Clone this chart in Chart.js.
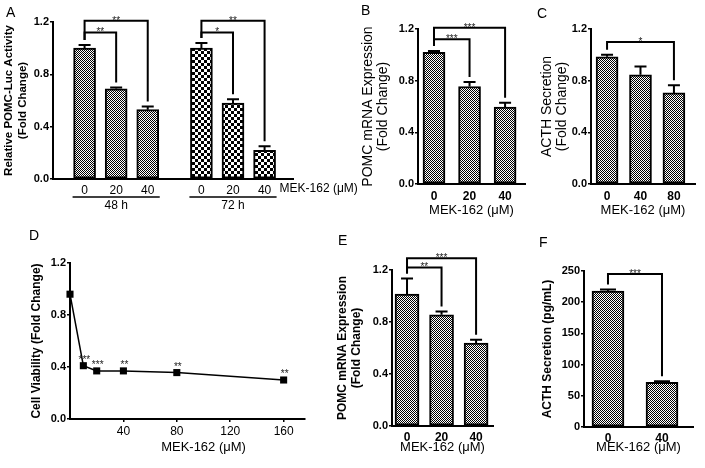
<!DOCTYPE html>
<html lang="en">
<head>
<meta charset="UTF-8">
<title>MEK-162 and POMC</title>
<script src="https://cdn.jsdelivr.net/npm/chart.js"></script>
<style>
    body, html {
        margin: 0;
        padding: 0;
        background: #fff;
        font-family: Arial, "Liberation Sans", sans-serif;
    }
    .wrap {
        position: relative;
        width: 705px;
        height: 468px;
        overflow: hidden;
    }
    canvas {
        position: absolute;
        left: 0;
        top: 0;
    }
    .tag {
        position: absolute;
        font-size: 14px;
        line-height: 16px;
        color: #000;
    }
</style>
</head>
<body>
<div class="wrap">
    <canvas id="chartA" width="705" height="468"></canvas>
    <canvas id="chartB" width="705" height="468"></canvas>
    <canvas id="chartC" width="705" height="468"></canvas>
    <canvas id="chartD" width="705" height="468"></canvas>
    <canvas id="chartE" width="705" height="468"></canvas>
    <canvas id="chartF" width="705" height="468"></canvas>
    <div class="tag" style="left:6px;top:4px">A</div>
    <div class="tag" style="left:361px;top:2px">B</div>
    <div class="tag" style="left:537px;top:5px">C</div>
    <div class="tag" style="left:29px;top:227px">D</div>
    <div class="tag" style="left:338px;top:232px">E</div>
    <div class="tag" style="left:539px;top:234px">F</div>
</div>

<script>
// ---- data ----
// A: POMC-Luc activity, 48 h and 72 h
const aDose = ['0', '20', '40', '0', '20', '40'];
const aPos = [1, 2, 3, 4.7, 5.7, 6.7];
const aGroupOf = [0, 0, 0, 1, 1, 1];
const aGroups = ['48 h', '72 h'];
const aMean = [1.00, 0.69, 0.53, 1.00, 0.58, 0.22];
const aErr = [0.025, 0.01, 0.025, 0.04, 0.03, 0.03];
const aSig = [[0, 1, 1.12, '**'], [0, 2, 1.21, '**'], [3, 4, 1.12, '*'], [3, 5, 1.21, '**']];

// B: POMC mRNA
const bDose = ['0', '20', '40'];
const bMean = [1.02, 0.755, 0.595];
const bErr = [0.01, 0.035, 0.035];
const bSig = [[0, 1, 1.12, '***'], [0, 2, 1.21, '***']];

// C: ACTH secretion (fold)
const cDose = ['0', '40', '80'];
const cMean = [0.985, 0.845, 0.705];
const cErr = [0.015, 0.065, 0.06];
const cSig = [[0, 2, 1.1, '*']];

// D: cell viability
const dDose = [0, 10, 20, 40, 80, 160];
const dViab = [0.96, 0.41, 0.37, 0.37, 0.357, 0.30];
const dStars = ['', '***', '***', '**', '**', '**'];
const dTicks = [40, 80, 120, 160];

// E: POMC mRNA
const eDose = ['0', '20', '40'];
const eMean = [1.015, 0.855, 0.638];
const eErr = [0.12, 0.025, 0.025];
const eSig = [[0, 1, 1.22, '**'], [0, 2, 1.29, '***']];

// F: ACTH secretion (pg/mL)
const fDose = ['0', '40'];
const fMean = [218, 71.5];
const fErr = [2.5, 2];
const fSig = [[0, 1, 245, '***']];

const W = 705, H = 468;
const FONT = 'Arial, "Liberation Sans", sans-serif';
Chart.defaults.font.family = FONT;
Chart.defaults.color = '#000';
Chart.defaults.plugins.legend.display = false;
Chart.defaults.plugins.tooltip.enabled = false;

function checker(cell) {
    const c = document.createElement('canvas');
    c.width = c.height = 2 * cell;
    const g = c.getContext('2d');
    g.fillStyle = '#fff';
    g.fillRect(0, 0, 2 * cell, 2 * cell);
    g.fillStyle = '#000';
    g.fillRect(0, 0, cell, cell);
    g.fillRect(cell, cell, cell, cell);
    return g.createPattern(c, 'repeat');
}
const fine = checker(1);
const coarse = checker(3);

// error bars + significance brackets
const sigPlugin = {
    id: 'sig',
    afterDatasetsDraw(chart, args, opts) {
        const {ctx} = chart;
        const x = chart.scales.x, y = chart.scales.y;
        const data = chart.data.datasets[0].data;
        const err = opts.err || [];
        ctx.save();
        ctx.strokeStyle = '#000';
        ctx.lineWidth = 2;
        err.forEach((e, i) => {
            const px = x.getPixelForValue(data[i].x);
            const top = y.getPixelForValue(data[i].y + e);
            ctx.beginPath();
            ctx.moveTo(px, y.getPixelForValue(data[i].y));
            ctx.lineTo(px, top);
            ctx.moveTo(px - opts.cap / 2, top);
            ctx.lineTo(px + opts.cap / 2, top);
            ctx.stroke();
        });
        ctx.font = '10px ' + FONT;
        ctx.fillStyle = '#222';
        ctx.textAlign = 'center';
        ctx.textBaseline = 'alphabetic';
        (opts.pairs || []).forEach(([a, b, level, label]) => {
            const xa = x.getPixelForValue(data[a].x);
            const xb = x.getPixelForValue(data[b].x);
            const yl = y.getPixelForValue(level);
            const ya = y.getPixelForValue(data[a].y + err[a]) - 5;
            const yb = y.getPixelForValue(data[b].y + err[b]) - 5;
            ctx.beginPath();
            ctx.moveTo(xa, ya);
            ctx.lineTo(xa, yl);
            ctx.lineTo(xb, yl);
            ctx.lineTo(xb, yb);
            ctx.stroke();
            ctx.fillText(label, (xa + xb) / 2, yl + 3);
        });
        ctx.restore();
    }
};

function barPanel(id, o) {
    return new Chart(document.getElementById(id), {
        type: 'bar',
        data: {
            datasets: [{
                data: o.pos.map((p, i) => ({x: p, y: o.mean[i]})),
                backgroundColor: o.fill,
                borderColor: '#000',
                borderWidth: 2,
                borderSkipped: false,
                barThickness: o.bar
            }]
        },
        options: {
            responsive: false,
            animation: false,
            layout: {padding: {left: o.box[0] - o.yw, top: o.box[1], right: W - o.box[2], bottom: H - o.box[3] - o.xh}},
            scales: {
                x: {
                    type: 'linear', min: o.xMin, max: o.xMax, offset: false,
                    afterBuildTicks: s => { s.ticks = o.pos.map(v => ({value: v})); },
                    afterFit: s => { s.height = o.xh; },
                    grid: {display: false, drawTicks: false, offset: false},
                    border: {display: true, color: '#000', width: 2},
                    ticks: {callback: (v, i) => o.labels[i], font: o.xFont, padding: o.xPad, autoSkip: false, maxRotation: 0},
                    title: o.xTitle ? {display: true, text: o.xTitle, font: {size: 13, lineHeight: 1.2}, padding: 0} : {display: false}
                },
                y: {
                    min: 0, max: o.yMax,
                    afterFit: s => { s.width = o.yw; },
                    ticks: {stepSize: o.yStep, font: {size: 11, weight: 'bold'}, padding: 1, callback: o.yFmt},
                    grid: {drawOnChartArea: false, color: '#000', lineWidth: 1.5, tickLength: 3},
                    border: {color: '#000', width: 2},
                    title: {display: true, text: o.yTitle, font: o.yFont, padding: 0}
                }
            },
            plugins: {sig: {err: o.err, pairs: o.pairs, cap: o.cap}}
        },
        plugins: [sigPlugin].concat(o.extra || [])
    });
}

const fold = v => v.toFixed(1);
const boldTitle = {size: 12, weight: 'bold', lineHeight: 1.15};
const plainTitle = {size: 14, lineHeight: 1.12};

// A extras: group underlines and dose caption
const aExtra = {
    id: 'aExtra',
    afterDraw(chart) {
        const {ctx} = chart;
        const x = chart.scales.x, y = chart.scales.y;
        const base = y.getPixelForValue(0);
        ctx.save();
        ctx.fillStyle = '#000';
        ctx.strokeStyle = '#000';
        ctx.lineWidth = 1.5;
        ctx.font = '12px ' + FONT;
        ctx.textBaseline = 'middle';
        ctx.textAlign = 'center';
        aGroups.forEach((name, g) => {
            const idx = aGroupOf.map((v, i) => v === g ? i : -1).filter(i => i >= 0);
            const x1 = x.getPixelForValue(aPos[idx[0]]) - 12;
            const x2 = x.getPixelForValue(aPos[idx[idx.length - 1]]) + 12;
            ctx.beginPath();
            ctx.moveTo(x1, base + 18);
            ctx.lineTo(x2, base + 18);
            ctx.stroke();
            ctx.fillText(name, (x1 + x2) / 2, base + 27);
        });
        ctx.textAlign = 'left';
        ctx.fillText('MEK-162 (μM)', x.getPixelForValue(aPos[aPos.length - 1]) + 15, base + 10);
        ctx.restore();
    }
};

barPanel('chartA', {
    box: [53, 22, 293, 179], yw: 51, xh: 30,
    pos: aPos, labels: aDose, mean: aMean, err: aErr, pairs: aSig,
    xMin: 0, xMax: 7.6, bar: 22, cap: 12,
    fill: aGroupOf.map(g => g === 0 ? fine : coarse),
    xFont: {size: 12}, xPad: 4,
    yMax: 1.2, yStep: 0.4, yFmt: fold,
    yTitle: ['Relative POMC-Luc Activity', '(Fold Change)'], yFont: {size: 11.5, weight: 'bold', lineHeight: 1.2},
    extra: [aExtra]
});

barPanel('chartB', {
    box: [418, 29, 525, 184], yw: 58, xh: 34,
    pos: [1, 2, 3], labels: bDose, mean: bMean, err: bErr, pairs: bSig,
    xMin: 0.55, xMax: 3.56, bar: 22, cap: 12, fill: fine,
    xFont: {size: 12, weight: 'bold'}, xPad: 5, xTitle: 'MEK-162 (μM)',
    yMax: 1.2, yStep: 0.4, yFmt: fold,
    yTitle: ['POMC mRNA Expression', '(Fold Change)'], yFont: plainTitle
});

barPanel('chartC', {
    box: [591, 29, 695, 184], yw: 52, xh: 34,
    pos: [1, 2, 3], labels: cDose, mean: cMean, err: cErr, pairs: cSig,
    xMin: 0.52, xMax: 3.63, bar: 22, cap: 12, fill: fine,
    xFont: {size: 12, weight: 'bold'}, xPad: 5, xTitle: 'MEK-162 (μM)',
    yMax: 1.2, yStep: 0.4, yFmt: fold,
    yTitle: ['ACTH Secretion', '(Fold Change)'], yFont: plainTitle
});

barPanel('chartE', {
    box: [392, 270, 493, 426], yw: 56, xh: 29,
    pos: [1, 2, 3], labels: eDose, mean: eMean, err: eErr, pairs: eSig,
    xMin: 0.565, xMax: 3.49, bar: 24, cap: 12, fill: fine,
    xFont: {size: 12, weight: 'bold'}, xPad: 4, xTitle: 'MEK-162 (μM)',
    yMax: 1.2, yStep: 0.4, yFmt: fold,
    yTitle: ['POMC mRNA Expression', '(Fold Change)'], yFont: boldTitle
});

barPanel('chartF', {
    box: [584, 271, 693, 427], yw: 43, xh: 28,
    pos: [1, 2], labels: fDose, mean: fMean, err: fErr, pairs: fSig,
    xMin: 0.556, xMax: 2.574, bar: 32, cap: 16, fill: fine,
    xFont: {size: 12, weight: 'bold'}, xPad: 4, xTitle: 'MEK-162 (μM)',
    yMax: 250, yStep: 50, yFmt: v => v,
    yTitle: 'ACTH Secretion (pg/mL)', yFont: boldTitle
});

// D: viability line with stars and caption
const dExtra = {
    id: 'dExtra',
    afterDraw(chart) {
        const {ctx} = chart;
        const x = chart.scales.x, y = chart.scales.y;
        ctx.save();
        ctx.fillStyle = '#222';
        ctx.font = '10px ' + FONT;
        ctx.textAlign = 'center';
        ctx.textBaseline = 'alphabetic';
        dStars.forEach((s, i) => {
            if (!s) return;
            ctx.fillText(s, x.getPixelForValue(dDose[i]) + 1, y.getPixelForValue(dViab[i]) - 3);
        });
        ctx.fillStyle = '#000';
        ctx.font = '13px ' + FONT;
        ctx.textBaseline = 'middle';
        ctx.fillText('MEK-162 (μM)', x.getPixelForValue(100), y.getPixelForValue(0) + 28);
        ctx.restore();
    }
};

new Chart(document.getElementById('chartD'), {
    type: 'line',
    data: {
        datasets: [{
            data: dDose.map((d, i) => ({x: d, y: dViab[i]})),
            borderColor: '#000',
            borderWidth: 1.5,
            backgroundColor: '#000',
            pointStyle: 'rect',
            pointRadius: 5,
            pointBorderWidth: 0,
            clip: false
        }]
    },
    options: {
        responsive: false,
        animation: false,
        layout: {padding: {left: 70 - 40, top: 263, right: W - 305, bottom: H - 419 - 35}},
        scales: {
            x: {
                type: 'linear', min: 0, max: 176,
                afterBuildTicks: s => { s.ticks = dTicks.map(v => ({value: v})); },
                afterFit: s => { s.height = 35; },
                grid: {drawOnChartArea: false, color: '#000', lineWidth: 1.5, tickLength: 3},
                border: {color: '#000', width: 2},
                ticks: {font: {size: 12}, padding: 2, autoSkip: false, maxRotation: 0}
            },
            y: {
                min: 0, max: 1.2,
                afterFit: s => { s.width = 40; },
                ticks: {stepSize: 0.4, font: {size: 11, weight: 'bold'}, padding: 1, callback: fold},
                grid: {drawOnChartArea: false, color: '#000', lineWidth: 1.5, tickLength: 3},
                border: {color: '#000', width: 2},
                title: {display: true, text: 'Cell Viability (Fold Change)', font: boldTitle, padding: 0}
            }
        }
    },
    plugins: [dExtra]
});
</script>
</body>
</html>
